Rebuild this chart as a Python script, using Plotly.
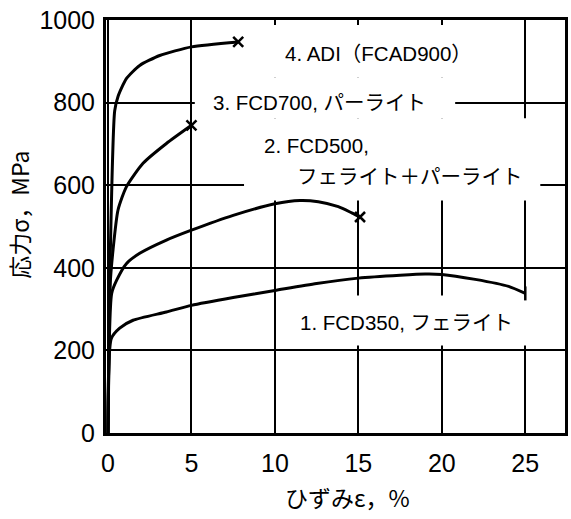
import plotly.graph_objects as go

# Stress-strain curves of ductile cast irons (strain in %, stress in MPa)
strain_1 = [0, 0.2, 0.7, 1.5, 3.5, 5, 7.5, 10, 12.5, 15, 17.5, 19, 20, 22, 24, 25]
stress_1 = [0, 229, 254, 273, 293, 309, 328, 345, 362, 375, 382, 385, 384, 372, 355, 338]

strain_2 = [0, 0.22, 0.52, 1.1, 1.9, 3.5, 5, 7.5, 10, 11.5, 12.6, 13.8, 14.6, 15.1]
stress_2 = [0, 338, 370, 410, 435, 467, 491, 527, 555, 563, 560, 548, 533, 523]

strain_3 = [0, 0.12, 0.3, 0.6, 1.1, 2.1, 3.5, 5]
stress_3 = [0, 353, 443, 540, 596, 653, 701, 745]

strain_4 = [0, 0.12, 0.4, 0.6, 1.1, 1.9, 3.1, 5, 7.8]
stress_4 = [0, 400, 780, 815, 858, 890, 914, 935, 947]

curves = [
    (strain_1, stress_1, "line-ns-open"),
    (strain_2, stress_2, "x-thin-open"),
    (strain_3, stress_3, "x-thin-open"),
    (strain_4, stress_4, "x-thin-open"),
]

x_ticks = [0, 5, 10, 15, 20, 25]
y_ticks = [0, 200, 400, 600, 800, 1000]

# Curve labels: (text, x, y)
labels = [
    ("4. ADI（FCAD900）", 10.5, 920),
    ("3. FCD700, パーライト", 6.2, 800),
    ("2. FCD500,", 9.2, 697),
    ("フェライト＋パーライト", 11.2, 622),
    ("1. FCD350, フェライト", 11.4, 268),
]

# White panels behind the labels that interrupt the grid (x0, x1, y0, y1)
panels = [
    (5.2, 24.6, 860, 988),
    (5.2, 20.8, 762, 860),
    (8.15, 25.9, 563, 762),
    (10.5, 25.7, 212, 333),
]

FONT = "Liberation Sans, 'Noto Sans CJK JP', sans-serif"
CJK = "'Noto Sans CJK JP', sans-serif"

fig = go.Figure()

for xs, ys, sym in curves:
    fig.add_trace(go.Scatter(
        x=xs, y=ys, mode="lines",
        line=dict(color="black", width=3, shape="spline", smoothing=0.6),
        hoverinfo="skip", showlegend=False,
    ))
    fig.add_trace(go.Scatter(
        x=[xs[-1]], y=[ys[-1]], mode="markers",
        marker=dict(symbol=sym, size=10, color="black",
                    line=dict(color="black", width=2.5)),
        hoverinfo="skip", showlegend=False,
    ))

for x0, x1, y0, y1 in panels:
    fig.add_shape(type="rect", xref="x", yref="y", x0=x0, x1=x1, y0=y0, y1=y1,
                  fillcolor="white", line=dict(width=0), layer="between")

for text, x, y in labels:
    fig.add_annotation(x=x, y=y, xref="x", yref="y", text=text, showarrow=False,
                       xanchor="left", yanchor="middle",
                       font=dict(family=FONT, size=20.5, color="black"))

# Axis titles
fig.add_annotation(x=-0.19, y=0.528, xref="paper", yref="paper", text="応力σ，MPa",
                   showarrow=False, textangle=-90, xanchor="center", yanchor="middle",
                   font=dict(family=CJK, size=23, color="black"))
fig.add_annotation(x=0.527, y=-0.155, xref="paper", yref="paper", text="ひずみε，%",
                   showarrow=False, xanchor="center", yanchor="middle",
                   font=dict(family=CJK, size=23, color="black"))

fig.update_xaxes(
    range=[-0.12, 27.38], tickvals=x_ticks, ticktext=[str(v) for v in x_ticks],
    showgrid=True, gridcolor="black", gridwidth=2, zeroline=False,
    showline=True, linecolor="black", linewidth=3, mirror=True,
    ticks="", ticklabelstandoff=6,
    tickfont=dict(family=FONT, size=25, color="black"),
)
fig.update_yaxes(
    range=[0, 1000], tickvals=y_ticks, ticktext=[str(v) for v in y_ticks],
    showgrid=True, gridcolor="black", gridwidth=2, zeroline=False,
    showline=True, linecolor="black", linewidth=3, mirror=True,
    ticks="", ticklabelstandoff=3,
    tickfont=dict(family=FONT, size=25, color="black"),
)

fig.update_layout(
    width=571, height=519,
    margin=dict(l=106, r=3, t=20, b=86),
    paper_bgcolor="white", plot_bgcolor="white",
    showlegend=False,
)

fig.write_html("out.html")
